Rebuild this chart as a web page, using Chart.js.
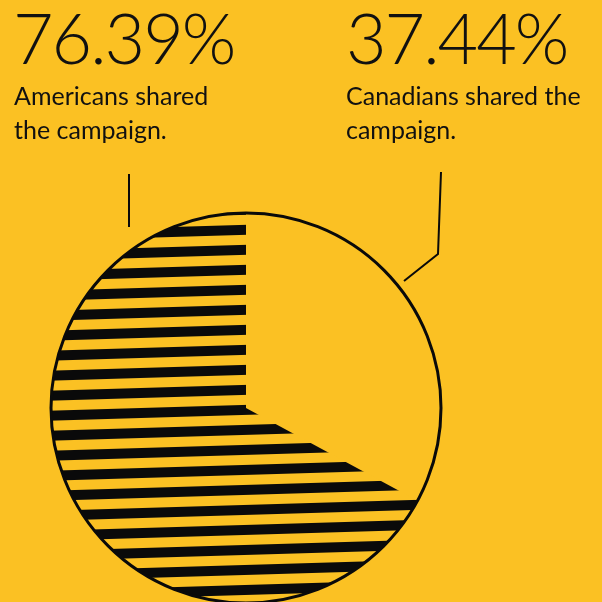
<!DOCTYPE html>
<html>
<head>
<meta charset="utf-8">
<script src="https://cdn.jsdelivr.net/npm/chart.js@4/dist/chart.umd.min.js"></script>
<style>
  html, body { margin: 0; padding: 0; }
  body { width: 602px; height: 602px; overflow: hidden; background: #fbc123; position: relative; font-family: Lato, "Open Sans", sans-serif; color: #111; }
  #wrap { position: absolute; left: 0; top: 0; width: 602px; height: 700px; }
  .big { position: absolute; font-size: 70px; font-weight: 300; line-height: 70px; white-space: nowrap; letter-spacing: -2px; }
  .sub { position: absolute; font-size: 25px; font-weight: 400; line-height: 34px; white-space: nowrap; }
</style>
</head>
<body>
<div id="wrap"><canvas id="myChart" width="602" height="700"></canvas></div>
<div class="big" id="numA" style="left:13px; top:2px;"></div>
<div class="sub" id="txtA" style="left:14px; top:78px;"></div>
<div class="big" id="numC" style="left:346px; top:2px;"></div>
<div class="sub" id="txtC" style="left:346px; top:78px;"></div>
<script>
// data
const labels = ['Canadians', 'Americans']
const values = [37.44, 76.39]
const captions = ['Canadians shared the<br>campaign.', 'Americans shared<br>the campaign.']

document.getElementById('numA').innerText = values[1].toFixed(2) + '%'
document.getElementById('numC').innerText = values[0].toFixed(2) + '%'
document.getElementById('txtA').innerHTML = captions[1]
document.getElementById('txtC').innerHTML = captions[0]

// striped fill
const makeStripes = () => {
    const c = document.createElement('canvas')
    c.width = 20
    c.height = 20
    const g = c.getContext('2d')
    g.fillStyle = '#fbc123'
    g.fillRect(0, 0, 20, 20)
    g.fillStyle = '#0a0a0a'
    g.fillRect(0, 12, 20, 8)
    g.fillRect(0, 0, 20, 2)
    const p = g.createPattern(c, 'repeat')
    p.setTransform(new DOMMatrix().rotate(-1.7))
    return p
}

const outlinePlugin = {
    id: 'outline',
    afterDatasetsDraw(chart) {
        const arc = chart.getDatasetMeta(0).data[0]
        const ctx = chart.ctx
        const cx = arc.x, cy = arc.y, r = arc.outerRadius
        ctx.save()
        ctx.strokeStyle = '#0a0a0a'
        ctx.lineWidth = 3
        ctx.beginPath()
        ctx.arc(cx, cy, r, 0, Math.PI * 2)
        ctx.stroke()
        // leader lines
        ctx.lineWidth = 2
        ctx.beginPath()
        ctx.moveTo(cx - 117, cy - 234)
        ctx.lineTo(cx - 117, cy - 181)
        ctx.stroke()
        ctx.beginPath()
        ctx.moveTo(cx + 195, cy - 236)
        ctx.lineTo(cx + 192, cy - 154)
        ctx.lineTo(cx + 158, cy - 127)
        ctx.stroke()
        ctx.restore()
    }
}

var ctx = document.getElementById('myChart').getContext('2d');
var myChart = new Chart(ctx, {
    type: 'pie',
    data: {
        labels: labels,
        datasets: [{
            data: values,
            backgroundColor: ['rgba(0,0,0,0)', makeStripes()],
            borderWidth: 0
        }]
    },
    options: {
        responsive: false,
        animation: false,
        layout: { padding: { left: 51, top: 213, right: 161, bottom: 97 } },
        plugins: {
            legend: { display: false },
            tooltip: { enabled: false }
        }
    },
    plugins: [outlinePlugin]
});
</script>
</body>
</html>
